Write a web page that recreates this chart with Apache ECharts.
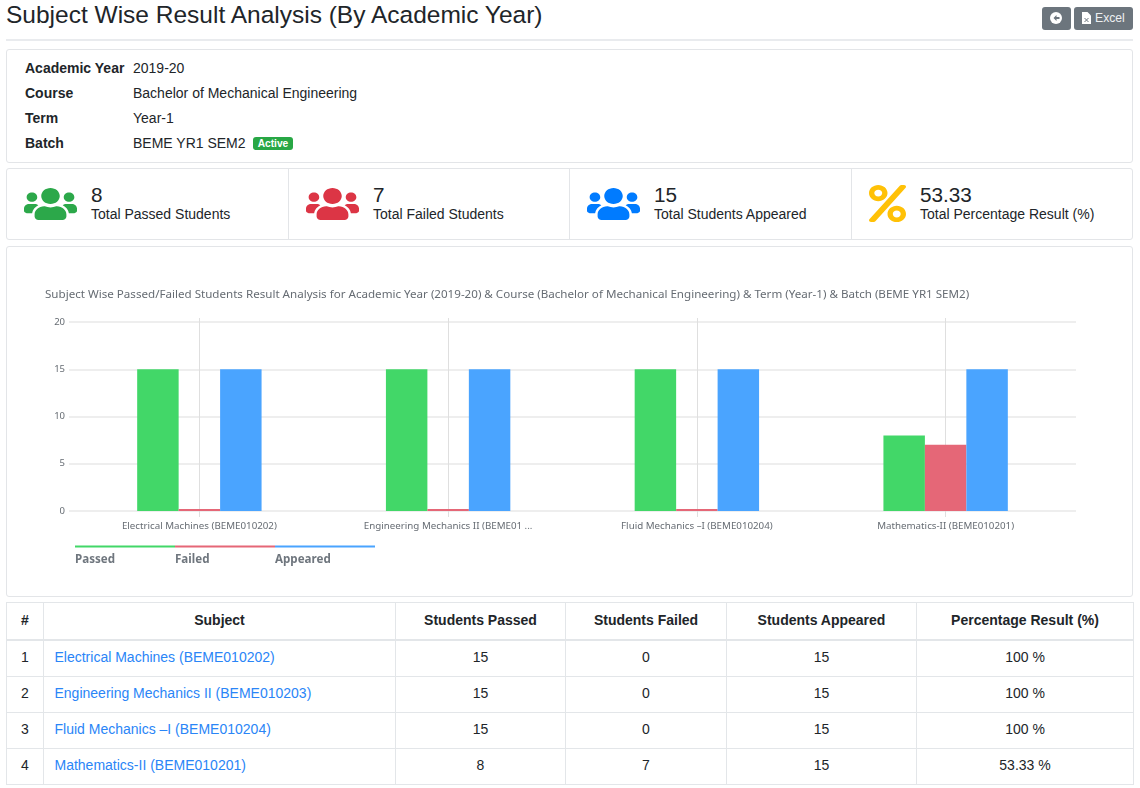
<!DOCTYPE html>
<html lang="en">
<head>
<meta charset="UTF-8">
<title>Subject Wise Result Analysis</title>
<script src="https://cdn.jsdelivr.net/npm/echarts@6/dist/echarts.min.js"></script>
<style>
    html,body{margin:0;padding:0;background:#fff;}
    body{width:1140px;height:788px;position:relative;overflow:hidden;font-family:"Liberation Sans",Arial,sans-serif;color:#212529;font-size:14px;}
    .abs{position:absolute;white-space:nowrap;}
    .card{position:absolute;left:6px;width:1125px;border:1px solid #e3e5e8;border-radius:3px;background:#fff;}
    .mid{line-height:20px;height:20px;}
    .lab{font-weight:bold;}
    .num{font-size:20.7px;line-height:22px;}
    .btn{position:absolute;top:7px;height:23px;background:#6c757d;border-radius:3px;color:#eef0f2;font-size:12.2px;line-height:23px;}
    table{position:absolute;left:6px;top:602px;width:1127px;border-collapse:collapse;table-layout:fixed;font-size:14px;}
    th,td{border:1px solid #e3e6e9;text-align:center;}
    th{height:34px;padding:0 0 2px 0;border-bottom:2px solid #e3e6e9;font-weight:bold;}
    td{height:31px;padding:0 0 4px 0;}
    td.sub{text-align:left;padding-left:10.5px;color:#2a85f7;}
    #chart{position:absolute;left:7px;top:247px;width:1125px;height:348px;}
</style>
</head>
<body>
<div class="abs" style="left:6px;top:0px;font-size:24.5px;line-height:30px;">Subject Wise Result Analysis (By Academic Year)</div>
<div class="btn" style="left:1042px;width:29px;">
    <svg width="12" height="12" viewBox="0 0 24 24" style="position:absolute;left:8px;top:5px;"><circle cx="12" cy="12" r="12" fill="#fff"/><path d="M13 6l-6 6 6 6v-4h6v-4h-6z" fill="#6c757d"/></svg>
</div>
<div class="btn" style="left:1074px;width:59px;">
    <svg width="9" height="12" viewBox="0 0 18 24" style="position:absolute;left:8px;top:5px;"><path d="M0 0h11l7 7v17H0z" fill="#fff"/><path d="M5 12l8 8M13 12l-8 8" stroke="#6c757d" stroke-width="2"/></svg>
    <span style="position:absolute;left:21px;">Excel</span>
</div>
<div class="abs" style="left:6px;top:39px;width:1127px;height:2px;background:#e9ebee;"></div>

<div class="card" style="top:49px;height:112px;"></div>
<div class="abs mid lab" style="left:25px;top:58px;">Academic Year</div>
<div class="abs mid" style="left:133px;top:58px;" id="infoYear"></div>
<div class="abs mid lab" style="left:25px;top:83px;">Course</div>
<div class="abs mid" style="left:133px;top:83px;" id="infoCourse"></div>
<div class="abs mid lab" style="left:25px;top:108px;">Term</div>
<div class="abs mid" style="left:133px;top:108px;" id="infoTerm"></div>
<div class="abs mid lab" style="left:25px;top:133px;">Batch</div>
<div class="abs mid" style="left:133px;top:133px;" id="infoBatch"></div>
<div class="abs" style="left:253px;top:137px;width:40px;height:13px;background:#28a745;border-radius:3px;color:#fff;font-size:10.2px;font-weight:bold;line-height:13px;text-align:center;">Active</div>

<div class="card" style="top:168px;height:70px;"></div>
<div class="abs" style="left:288px;top:169px;width:1px;height:70px;background:#e3e5e8;"></div>
<div class="abs" style="left:569px;top:169px;width:1px;height:70px;background:#e3e5e8;"></div>
<div class="abs" style="left:851px;top:169px;width:1px;height:70px;background:#e3e5e8;"></div>
<div id="stats"></div>

<div class="card" style="top:246px;height:349px;"></div>
<div id="chart"></div>

<table id="resultTable"></table>

<script type="text/javascript">
    var academicYear = '2019-20';
    var course = 'Bachelor of Mechanical Engineering';
    var term = 'Year-1';
    var batch = 'BEME YR1 SEM2';

    var subjects = ['Electrical Machines (BEME010202)', 'Engineering Mechanics II (BEME010203)', 'Fluid Mechanics –I (BEME010204)', 'Mathematics-II (BEME010201)'];
    var passed = [15, 15, 15, 8];
    var failed = [0, 0, 0, 7];
    var appeared = [15, 15, 15, 15];
    var percentResult = ['100 %', '100 %', '100 %', '53.33 %'];

    var statValues = ['8', '7', '15', '53.33'];
    var statLabels = ['Total Passed Students', 'Total Failed Students', 'Total Students Appeared', 'Total Percentage Result (%)'];
    var tableHeaders = ['#', 'Subject', 'Students Passed', 'Students Failed', 'Students Appeared', 'Percentage Result (%)'];
    var seriesNames = ['Passed', 'Failed', 'Appeared'];
    var yTicks = {min: 0, max: 20, interval: 5};

    var chartTitle = 'Subject Wise Passed/Failed Students Result Analysis for Academic Year (2019-20) & Course (Bachelor of Mechanical Engineering) & Term (Year-1) & Batch (BEME YR1 SEM2)';

    var usersPath = 'M96 224c35.3 0 64-28.7 64-64s-28.7-64-64-64-64 28.7-64 64 28.7 64 64 64zm448 0c35.3 0 64-28.7 64-64s-28.7-64-64-64-64 28.7-64 64 28.7 64 64 64zm32 32h-64c-17.6 0-33.5 7.1-45.1 18.6 40.3 22.1 68.9 62 75.1 109.4h66c17.7 0 32-14.3 32-32v-32c0-35.3-28.7-64-64-64zm-256 0c61.9 0 112-50.1 112-112S381.9 32 320 32 208 82.1 208 144s50.1 112 112 112zm76.8 32h-8.3c-20.8 10-43.9 16-68.5 16s-47.6-6-68.5-16h-8.3C179.6 288 128 339.6 128 403.2V432c0 26.5 21.5 48 48 48h288c26.5 0 48-21.5 48-48v-28.8c0-63.6-51.6-115.2-115.2-115.2zm-223.7-13.4C161.5 263.1 145.6 256 128 256H64c-35.3 0-64 28.7-64 64v32c0 17.7 14.3 32 32 32h65.9c6.3-47.4 34.9-87.3 75.2-109.4z';
    var percentPath = 'M112 224c61.9 0 112-50.1 112-112S173.9 0 112 0 0 50.1 0 112s50.1 112 112 112zm0-160c26.5 0 48 21.5 48 48s-21.5 48-48 48-48-21.5-48-48 21.5-48 48-48zm224 224c-61.9 0-112 50.1-112 112s50.1 112 112 112 112-50.1 112-112-50.1-112-112-112zm0 160c-26.5 0-48-21.5-48-48s21.5-48 48-48 48 21.5 48 48-21.5 48-48 48zM392.3.2l31.6-.1c19.4-.1 30.9 21.8 19.7 37.8L77.4 501.6a23.95 23.95 0 0 1-19.6 10.2l-33.4.1c-19.5 0-30.9-21.9-19.7-37.8l368-463.7C377.2 4 384.5.2 392.3.2z';

    document.getElementById('infoYear').textContent = academicYear;
    document.getElementById('infoCourse').textContent = course;
    document.getElementById('infoTerm').textContent = term;
    document.getElementById('infoBatch').textContent = batch;

    // stat boxes
    function buildStats() {
        var html = '';
        var iconX = [24, 306, 587, 869];
        var textX = [91, 373, 654, 920];
        var iconColor = ['#2ca84a', '#dc3545', '#007bff', '#ffc107'];
        for (var i = 0; i < 4; i++) {
            if (i < 3) {
                html += '<svg class="abs" style="left:' + iconX[i] + 'px;top:188px;" width="53" height="32" viewBox="0 32 640 448" preserveAspectRatio="none"><path fill="' + iconColor[i] + '" d="' + usersPath + '"/></svg>';
            } else {
                html += '<svg class="abs" style="left:' + iconX[i] + 'px;top:185px;" width="37" height="37" viewBox="0 0 448 512" preserveAspectRatio="none"><path fill="' + iconColor[i] + '" d="' + percentPath + '"/></svg>';
            }
            html += '<div class="abs num" style="left:' + textX[i] + 'px;top:184px;">' + statValues[i] + '</div>';
            html += '<div class="abs mid" style="left:' + textX[i] + 'px;top:204px;">' + statLabels[i] + '</div>';
        }
        document.getElementById('stats').innerHTML = html;
    }

    function buildTable() {
        var widths = [37, 352, 170, 161, 190, 217];
        var html = '<colgroup>';
        for (var c = 0; c < widths.length; c++) {
            html += '<col style="width:' + widths[c] + 'px">';
        }
        html += '</colgroup><tr>';
        for (var h = 0; h < tableHeaders.length; h++) {
            html += '<th>' + tableHeaders[h] + '</th>';
        }
        html += '</tr>';
        for (var i = 0; i < subjects.length; i++) {
            html += '<tr><td>' + (i + 1) + '</td><td class="sub">' + subjects[i] + '</td><td>' + passed[i] + '</td><td>' + failed[i] + '</td><td>' + appeared[i] + '</td><td>' + percentResult[i] + '</td></tr>';
        }
        document.getElementById('resultTable').innerHTML = html;
    }

    buildStats();
    buildTable();

    var chartFont = '"Noto Sans", sans-serif';
    var gridColor = '#e9e9e9';
    var seriesColors = ['#42d768', '#e56777', '#4aa4ff'];
    var seriesData = [passed, failed, appeared];

    var myChart = echarts.init(document.getElementById('chart'));
    var option = {
        animation: false,
        title: {
            text: chartTitle,
            left: 33,
            top: 37,
            textStyle: {fontFamily: chartFont, fontSize: 11.6, fontWeight: 'normal', color: '#666c73'}
        },
        // one legend per series so the colour bars butt together
        legend: seriesNames.map(function (name, i) {
            return {
                data: [name],
                left: 68 + 100 * i,
                top: 280,
                padding: 0,
                icon: 'rect',
                itemWidth: 100,
                itemHeight: 2,
                selectedMode: false,
                formatter: '\n\n{name}',
                textStyle: {fontFamily: chartFont, fontSize: 11.6, lineHeight: 13, fontWeight: 'bold', color: '#6f767e', padding: [0, 0, 0, -105]}
            };
        }),
        grid: {left: 68, top: 75, width: 995, height: 189},
        xAxis: [
            {
                type: 'category',
                data: subjects,
                axisLine: {show: false},
                // short tail under the plot
                axisTick: {show: true, interval: 0, alignWithLabel: true, length: 6, lineStyle: {color: '#dfdfdf'}},
                axisLabel: {
                    fontFamily: chartFont, fontSize: 9.75, color: '#666c73', margin: 10, interval: 0,
                    width: 175, overflow: 'truncate', ellipsis: ' ...'
                }
            },
            {
                // guide line at each category centre, up through the plot
                type: 'category',
                position: 'bottom',
                data: subjects,
                axisLine: {show: false},
                axisLabel: {show: false},
                axisTick: {show: true, interval: 0, alignWithLabel: true, inside: true, length: 193, lineStyle: {color: '#dfdfdf'}}
            }
        ],
        yAxis: [
            {
                type: 'value',
                min: yTicks.min,
                max: yTicks.max,
                interval: yTicks.interval,
                axisLine: {show: false},
                axisTick: {show: true, length: 6, lineStyle: {color: gridColor, width: 1.5}},
                axisLabel: {fontFamily: chartFont, fontSize: 9.5, color: '#666c73', margin: 10},
                splitLine: {show: true, lineStyle: {color: gridColor, width: 1.5}}
            },
            {
                type: 'value',
                position: 'right',
                min: yTicks.min,
                max: yTicks.max,
                interval: yTicks.interval,
                axisLine: {show: false},
                axisTick: {show: true, length: 6, lineStyle: {color: gridColor, width: 1.5}},
                axisLabel: {show: false},
                splitLine: {show: false}
            }
        ],
        series: seriesNames.map(function (name, i) {
            return {
                name: name,
                type: 'bar',
                barWidth: '16.67%',
                barGap: 0,
                barMinHeight: 2,
                itemStyle: {color: seriesColors[i]},
                data: seriesData[i]
            };
        })
    };
    myChart.setOption(option);
</script>
</body>
</html>
